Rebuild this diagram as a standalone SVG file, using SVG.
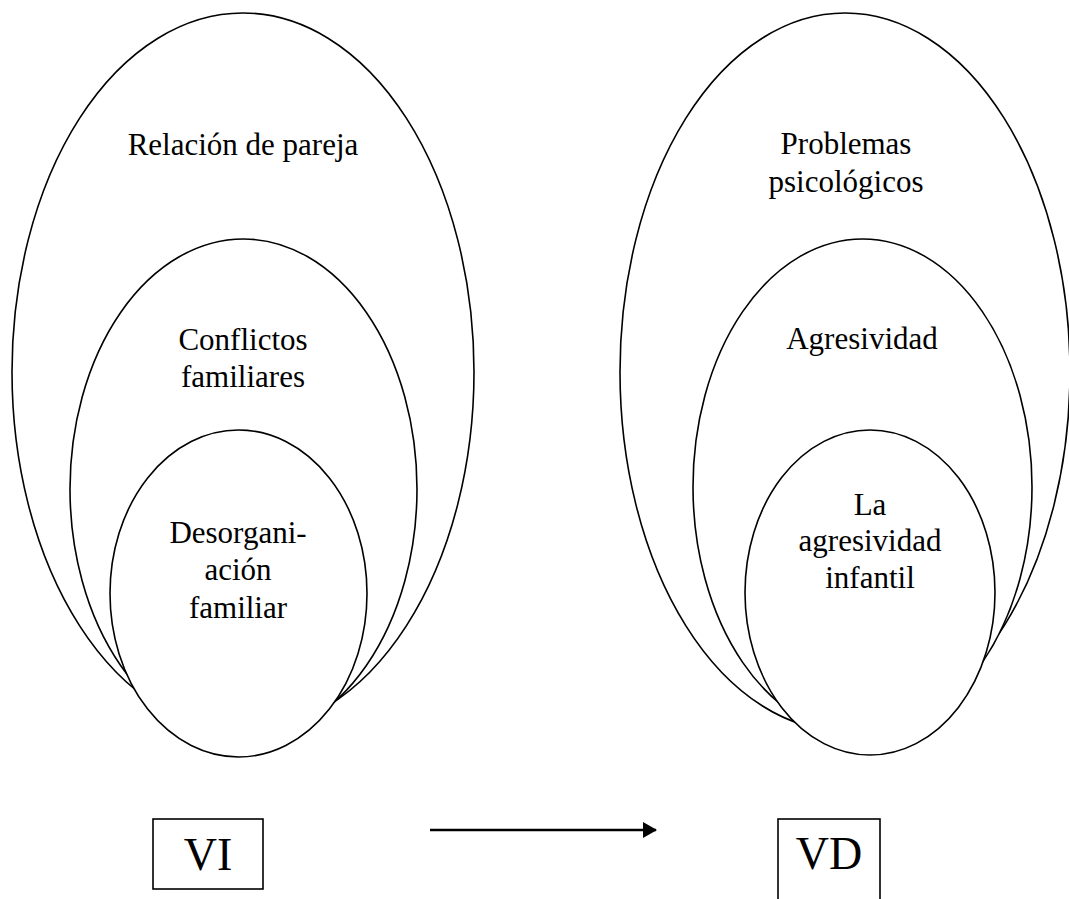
<svg xmlns="http://www.w3.org/2000/svg" width="1069" height="899" viewBox="0 0 1069 899">
<style>
.e{fill:#fff;stroke:#000;stroke-width:1.6}
.t{font-family:"Liberation Serif","Times New Roman",serif;font-size:31px;fill:#000;text-anchor:middle}
.b{fill:#fff;stroke:#000;stroke-width:1.6}
.bt{font-family:"Liberation Serif","Times New Roman",serif;font-size:46px;fill:#000;text-anchor:middle}
</style>
<defs>
<marker id="ah" markerWidth="14" markerHeight="16" refX="13" refY="8" orient="auto" markerUnits="userSpaceOnUse">
<path d="M0,0 L14,8 L0,16 Z" fill="#000"/>
</marker>
</defs>
<g id="vi-outer"><ellipse class="e" cx="243" cy="372" rx="231" ry="359"/><text class="t" x="243" y="155">Relación de pareja</text></g>
<g id="vi-middle"><ellipse class="e" cx="243.5" cy="489" rx="173.5" ry="250"/><text class="t" x="243" y="350">Conflictos</text><text class="t" x="243" y="387">familiares</text></g>
<g id="vi-inner"><ellipse class="e" cx="238.5" cy="593.5" rx="128.5" ry="163.5"/><text class="t" x="238" y="543">Desorgani-</text><text class="t" x="238" y="580">ación</text><text class="t" x="238" y="618">familiar</text></g>
<g id="vd-outer"><ellipse class="e" cx="845" cy="372" rx="225" ry="359"/><text class="t" x="846" y="154">Problemas</text><text class="t" x="846" y="192">psicológicos</text></g>
<g id="vd-middle"><ellipse class="e" cx="862.5" cy="487" rx="169.5" ry="248"/><text class="t" x="862" y="349">Agresividad</text></g>
<g id="vd-inner"><ellipse class="e" cx="870" cy="592.5" rx="125" ry="162.5"/><text class="t" x="870" y="515">La</text><text class="t" x="870" y="551">agresividad</text><text class="t" x="870" y="588">infantil</text></g>
<g id="vi-box"><rect class="b" x="153" y="819" width="110" height="70"/><text class="bt" x="208" y="870">VI</text></g>
<g id="vd-box"><rect class="b" x="778" y="819" width="102" height="100"/><text class="bt" x="829" y="869">VD</text></g>
<g id="connectors"><line x1="430" y1="830" x2="656" y2="830" stroke="#000" stroke-width="2.4" marker-end="url(#ah)"/></g>
</svg>
